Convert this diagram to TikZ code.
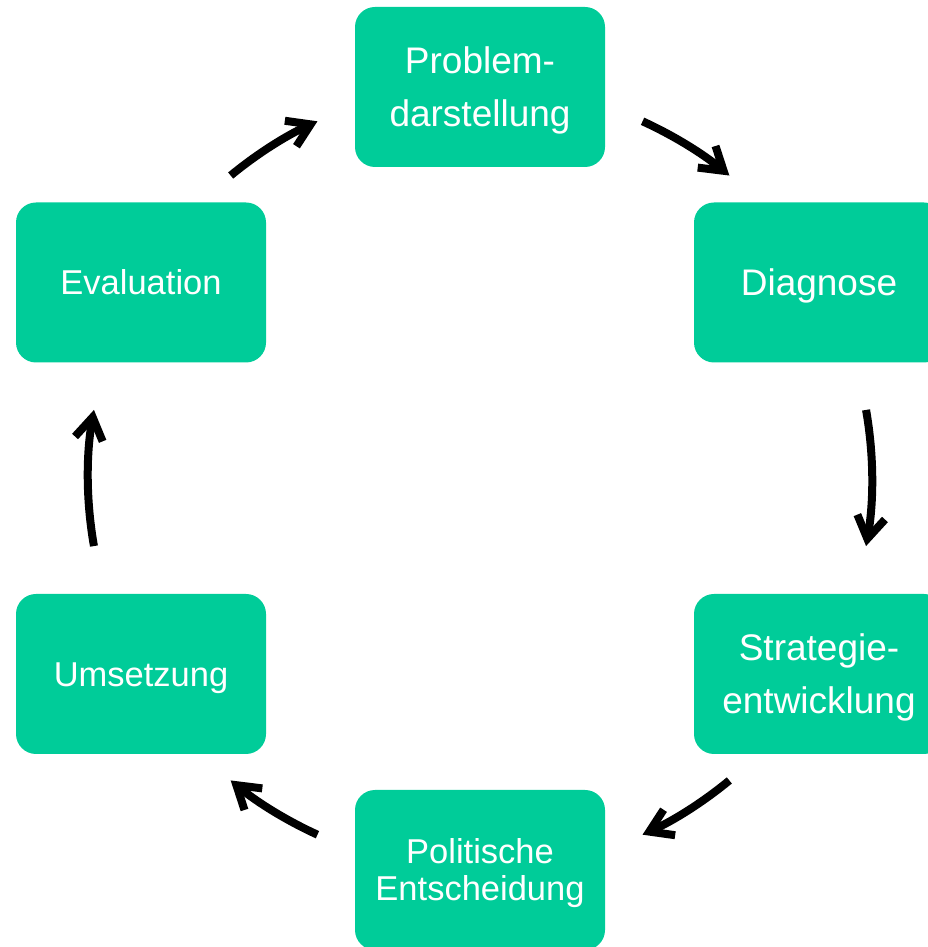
\documentclass[tikz,border=0pt]{standalone}
\usepackage{fontspec}
\setmainfont{Liberation Sans}
\usetikzlibrary{arrows.meta}
\definecolor{boxgreen}{RGB}{0,204,153}
\newcommand{\liftbig}{\rule{0pt}{33.5pt}}
\newcommand{\liftsmall}{\rule{0pt}{31.2pt}}
\tikzset{
  stage/.style={draw=none, fill=boxgreen, rounded corners=20pt, minimum width=250pt,
    minimum height=160pt, inner sep=0pt, text=white, align=center},
  bigtxt/.style={font=\fontsize{37}{52.5}\selectfont},
  smalltxt/.style={font=\fontsize{34.5}{36.6}\selectfont},
  cyc/.style={line width=8pt, -{Straight Barb[length=22pt,width=28pt]}}
}
\begin{document}
\begin{tikzpicture}[x=1pt,y=1pt]
\useasboundingbox (0,0) rectangle (928,947);
\clip (0,0) rectangle (928,947);
\node[stage,bigtxt] (prob) at (480,860) {\liftbig Problem-\\darstellung\vphantom{g}};
\node[stage,bigtxt] (diag) at (819,664.5) {\liftbig Diagnose};
\node[stage,bigtxt] (strat) at (819,273) {\liftbig Strategie-\\entwicklung};
\node[stage,smalltxt] (pol) at (480,77) {\liftsmall Politische\\Entscheidung};
\node[stage,smalltxt] (ums) at (141,273) {\liftsmall Umsetzung};
\node[stage,smalltxt] (eval) at (141,664.5) {\liftsmall Evaluation\vphantom{g}};
\coordinate (c) at (480,469);
\coordinate (a1) at ([shift={(c)}]129.5:392);
\coordinate (a2) at ([shift={(c)}]65.5:392);
\coordinate (a3) at ([shift={(c)}]10:392);
\coordinate (a4) at ([shift={(c)}]-50.5:392);
\coordinate (a5) at ([shift={(c)}]-114.5:392);
\coordinate (a6) at ([shift={(c)}]190:392);
\draw[cyc] (a1) arc[start angle=129.5, end angle=114.5, radius=392];
\draw[cyc] (a2) arc[start angle=65.5, end angle=50.5, radius=392];
\draw[cyc] (a3) arc[start angle=10, end angle=-10, radius=392];
\draw[cyc] (a4) arc[start angle=-50.5, end angle=-65.5, radius=392];
\draw[cyc] (a5) arc[start angle=-114.5, end angle=-129.5, radius=392];
\draw[cyc] (a6) arc[start angle=190, end angle=170, radius=392];
\end{tikzpicture}
\end{document}
